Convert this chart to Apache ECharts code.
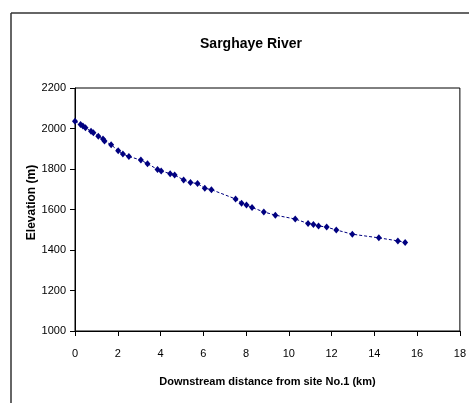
<!DOCTYPE html>
<html>
<head>
<meta charset="utf-8">
<title>Sarghaye River</title>
<script src="https://cdn.jsdelivr.net/npm/echarts@6/dist/echarts.min.js"></script>
<style>
    html, body {margin: 0; padding: 0; background: #fff;}
    #chart {width: 469px; height: 403px;}
</style>
</head>
<body>
<div id="chart"></div>
<script>
// distance downstream from site No.1 (km)
let distance = [0, 0.26, 0.37, 0.49, 0.75, 0.86, 1.09, 1.31, 1.38, 1.69,
    2.02, 2.24, 2.52, 3.08, 3.39, 3.86, 4.03, 4.45, 4.66, 5.08,
    5.40, 5.73, 6.07, 6.38, 7.51, 7.79, 8.02, 8.28, 8.83, 9.37,
    10.30, 10.90, 11.15, 11.39, 11.77, 12.22, 12.97, 14.21, 15.10, 15.44];
// elevation (m)
let elevation = [2036, 2020, 2012, 2004, 1986, 1979, 1962, 1948, 1938, 1920,
    1890, 1874, 1862, 1844, 1826, 1798, 1790, 1777, 1770, 1746,
    1733, 1728, 1705, 1698, 1652, 1631, 1622, 1610, 1588, 1572,
    1553, 1531, 1526, 1519, 1513, 1499, 1478, 1460, 1445, 1437];
let xTicks = {min: 0, max: 18, interval: 2};
let yTicks = {min: 1000, max: 2200, interval: 200};

let points = distance.map((d, i) => [d, elevation[i]]);
let font = '"Liberation Sans", Arial, sans-serif';

let myChart = echarts.init(document.getElementById('chart'));
myChart.setOption({
    animation: false,
    title: {
        text: 'Sarghaye River',
        left: 246,
        top: 32,
        textAlign: 'center',
        textStyle: {fontFamily: font, fontSize: 14, fontWeight: 'bold', color: '#000'}
    },
    grid: {
        left: 75, right: 2, top: 88, bottom: 72,
        show: true, borderColor: '#000', borderWidth: 1, backgroundColor: '#fff'
    },
    xAxis: {
        type: 'value',
        min: xTicks.min, max: xTicks.max, interval: xTicks.interval,
        name: 'Downstream distance from site No.1 (km)',
        nameLocation: 'middle',
        nameGap: 45,
        nameMoveOverlap: false,
        nameTextStyle: {fontFamily: font, fontSize: 11, fontWeight: 'bold', color: '#000'},
        axisLine: {onZero: false, lineStyle: {color: '#000', width: 1}},
        axisTick: {inside: false, length: 5, lineStyle: {color: '#000'}},
        axisLabel: {fontFamily: font, fontSize: 11, color: '#000', margin: 17, showMaxLabel: true},
        splitLine: {show: false}
    },
    yAxis: {
        type: 'value',
        min: yTicks.min, max: yTicks.max, interval: yTicks.interval,
        name: 'Elevation (m)',
        nameLocation: 'middle',
        nameGap: 37,
        nameMoveOverlap: false,
        nameTextStyle: {fontFamily: font, fontSize: 12, fontWeight: 'bold', color: '#000', padding: [0, 0, 0, 14]},
        axisLine: {show: true, lineStyle: {color: '#000', width: 1}},
        axisTick: {show: true, length: 5, lineStyle: {color: '#000'}},
        axisLabel: {fontFamily: font, fontSize: 11, color: '#000', margin: 9, formatter: v => String(v)},
        splitLine: {show: false}
    },
    graphic: [
        {type: 'line', shape: {x1: 11, y1: 13, x2: 469, y2: 13}, style: {stroke: '#333', lineWidth: 1.5}},
        {type: 'line', shape: {x1: 11, y1: 13, x2: 11, y2: 403}, style: {stroke: '#333', lineWidth: 1.5}}
    ],
    series: [{
        type: 'line',
        data: points,
        symbol: 'diamond',
        symbolSize: [6, 7],
        itemStyle: {color: '#000080'},
        lineStyle: {color: '#000080', width: 1, type: [3, 2]}
    }]
});
</script>
</body>
</html>
